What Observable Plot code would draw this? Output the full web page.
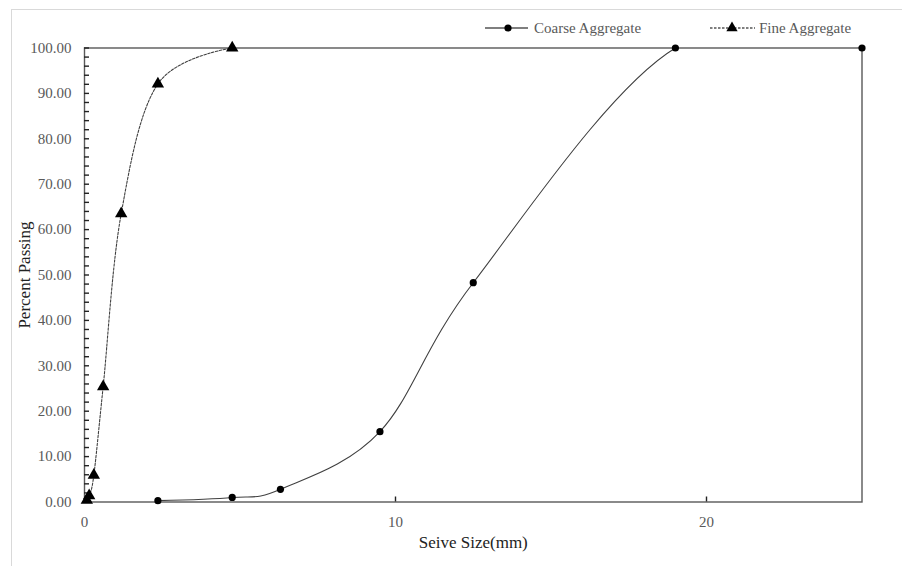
<!DOCTYPE html>
<html>
<head>
<meta charset="utf-8">
<script src="https://cdn.jsdelivr.net/npm/d3@7"></script>
<script src="https://cdn.jsdelivr.net/npm/@observablehq/plot@0.6"></script>
<style>
  html, body { margin: 0; padding: 0; background: #fff; }
  #wrap { position: relative; width: 902px; height: 566px; overflow: hidden; font-family: "Liberation Serif", "Times New Roman", serif; }
  #border { position: absolute; left: 11px; top: 9px; right: -5px; bottom: -5px; border-top: 1.5px solid #d9d9d9; border-left: 1.5px solid #d9d9d9; }
  #chart { position: absolute; left: 0; top: 0; }
  #legend { position: absolute; left: 0; top: 0; width: 902px; height: 40px; pointer-events: none; }
  g[aria-label="x-axis label"] text, g[aria-label="y-axis label"] text { font-size: 17px; fill: #222; }
</style>
</head>
<body>
<div id="wrap">
  <div id="border"></div>
  <div id="chart"></div>
  <svg id="legend" width="902" height="40"></svg>
</div>
<script>
// Data (sieve size in mm, percent passing)
const coarseSize = [2.36, 4.75, 6.3, 9.5, 12.5, 19, 25];
const coarsePass = [0.3, 1.0, 2.8, 15.5, 48.3, 100, 100];
const fineSize = [0.075, 0.15, 0.3, 0.6, 1.18, 2.36, 4.75];
const finePass = [0.4, 1.4, 5.9, 25.4, 63.5, 92.1, 100];
const xTicks = [0, 10, 20];
const yTicks = [0, 10, 20, 30, 40, 50, 60, 70, 80, 90, 100];
const yMinorTicks = d3.range(0, 101, 2);
const seriesNames = ["Coarse Aggregate", "Fine Aggregate"];

const coarse = coarseSize.map((s, i) => ({size: s, pass: coarsePass[i]}));
const fine = fineSize.map((s, i) => ({size: s, pass: finePass[i]}));

const tickColor = "#595959";
const W = 902, H = 566, mL = 84, mR = 40.5, mT = 47.5, mB = 64.5;
const xDomain = [0, 25], yDomain = [0, 100];
// inward tick length of 5px expressed in data units
const tickLenX = 5 / (W - mL - mR) * (xDomain[1] - xDomain[0]);
const tickLenY = 5 / (H - mT - mB) * (yDomain[1] - yDomain[0]);

const chart = Plot.plot({
  width: W,
  height: H,
  marginLeft: mL,
  marginRight: mR,
  marginTop: mT,
  marginBottom: mB,
  style: {fontFamily: "Liberation Serif, Times New Roman, serif", fontSize: "15px", color: tickColor, background: "transparent"},
  x: {domain: xDomain},
  y: {domain: yDomain},
  marks: [
    Plot.axisY({ticks: yTicks, tickSize: 0, tickPadding: 13, tickFormat: d3.format(".2f"), color: tickColor,
      label: "Percent Passing", labelAnchor: "center", labelOffset: 67, labelArrow: "none"}),
    Plot.axisX({ticks: xTicks, tickSize: 0, tickPadding: 14, color: tickColor,
      label: "Seive Size(mm)", labelAnchor: "center", labelOffset: 46, labelArrow: "none"}),
    Plot.frame({stroke: "#595959", strokeWidth: 1.4}),
    // inward tick marks
    Plot.ruleY(yMinorTicks, {y: d => d, x1: xDomain[0], x2: xDomain[0] + tickLenX, stroke: "#222", strokeWidth: 1.4}),
    Plot.ruleX(xTicks.filter(d => d > 0), {x: d => d, y1: yDomain[0], y2: yDomain[0] + tickLenY, stroke: "#222", strokeWidth: 1.4}),
    Plot.line(coarse, {x: "size", y: "pass", curve: "cardinal", stroke: "#404040", strokeWidth: 1.1, clip: true}),
    Plot.line(fine, {x: "size", y: "pass", curve: "cardinal", stroke: "#404040", strokeWidth: 1.1, strokeDasharray: "2.5,1.5", clip: true}),
    Plot.dot(coarse, {x: "size", y: "pass", r: 3.6, fill: "#000", stroke: "none"}),
    Plot.dot(fine, {x: "size", y: "pass", symbol: "triangle", r: 4.6, fill: "#000", stroke: "none"})
  ]
});
document.getElementById("chart").appendChild(chart);

// Legend
const lg = d3.select("#legend");
const ly = 28;
const entries = [
  {x0: 485, x1: 528, mx: 508, tx: 534, dash: null, sym: "circle", name: seriesNames[0]},
  {x0: 710, x1: 755, mx: 732, tx: 759, dash: "2.5,1.5", sym: "triangle", name: seriesNames[1]}
];
for (const e of entries) {
  lg.append("line").attr("x1", e.x0).attr("x2", e.x1).attr("y1", ly).attr("y2", ly)
    .attr("stroke", "#000").attr("stroke-width", 1.1).attr("stroke-dasharray", e.dash);
  if (e.sym === "circle") {
    lg.append("circle").attr("cx", e.mx).attr("cy", ly).attr("r", 3.6).attr("fill", "#000");
  } else {
    lg.append("path").attr("d", d3.symbol(d3.symbolTriangle, 55)()).attr("transform", `translate(${e.mx},${ly})`).attr("fill", "#000");
  }
  lg.append("text").attr("x", e.tx).attr("y", ly).attr("dy", "0.35em")
    .attr("font-family", "Liberation Serif, Times New Roman, serif").attr("font-size", 15)
    .attr("fill", tickColor).text(e.name);
}
</script>
</body>
</html>
